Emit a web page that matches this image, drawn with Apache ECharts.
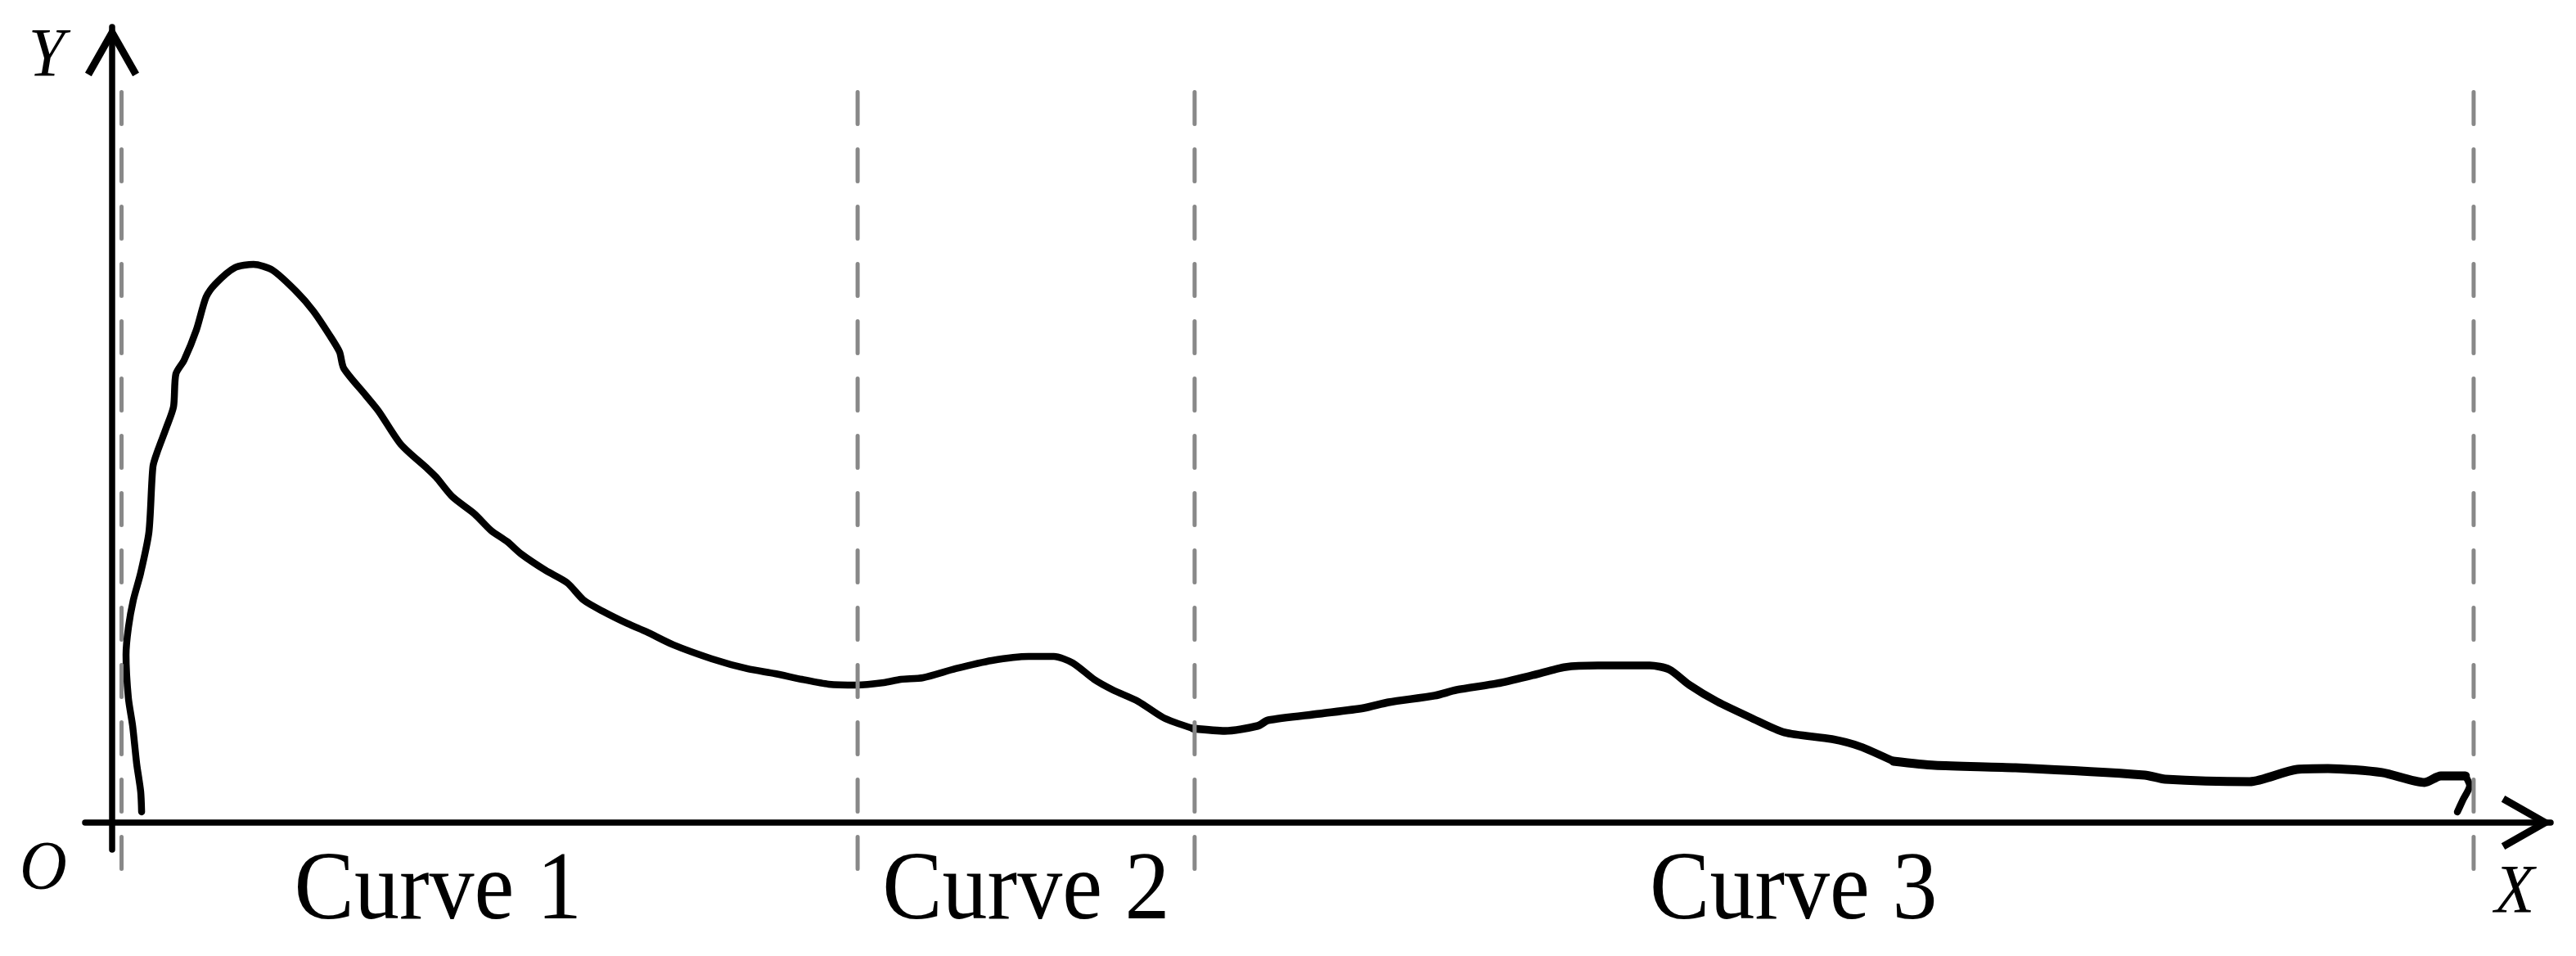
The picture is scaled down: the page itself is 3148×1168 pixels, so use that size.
<!DOCTYPE html>
<html>
<head>
<meta charset="utf-8">
<script src="https://cdn.jsdelivr.net/npm/echarts@6/dist/echarts.min.js"></script>
<style>
  html, body { margin: 0; padding: 0; background: #fff; }
  #chart { width: 3148px; height: 1168px; }
</style>
</head>
<body>
<div id="chart"></div>
<script>
// ---- Data ----
// Curve trace: x and y in chart units (x: 0 = Y axis, 100 = last boundary; y: 0 = X axis)
const curveX = [1.25, 1.21, 1.04, 0.87, 0.69, 0.59, 0.69, 0.90, 1.21, 1.56, 1.73, 1.94, 2.29, 2.60, 2.70, 3.05, 3.57, 3.98, 4.37, 5.20,
  5.99, 6.79, 7.83, 8.52, 9.22, 9.63, 9.81, 10.74, 11.30, 12.23, 13.37, 13.72, 14.41, 15.35, 16.04, 16.74, 17.33, 18.36, 19.27, 19.96,
  20.79, 21.83, 22.63, 23.77, 25.40, 26.89, 28.07, 29.21, 30.35, 31.53, 32.68, 33.40, 34.34, 35.72, 37.25, 38.81, 39.88, 40.68, 41.58, 42.38,
  43.45, 44.53, 45.77, 47.12, 48.51, 48.96, 51.14, 53.01, 54.05, 56.00, 56.93, 58.66, 60.15, 61.54, 62.92, 65.11, 65.94, 66.80, 67.95, 69.40,
  70.82, 72.83, 74.01, 75.43, 77.17, 80.60, 86.07, 86.94, 90.51, 92.52, 93.83, 96.12, 97.92, 98.61, 99.65, 99.83, 99.55, 99.31];
const curveY = [1.34, 3.91, 7.41, 12.14, 15.64, 21.09, 24.49, 27.98, 31.38, 36.52, 44.75, 46.81, 49.59, 52.26, 56.38, 58.13, 61.93, 66.05, 67.70, 69.75,
  70.16, 69.44, 66.67, 64.30, 61.21, 59.16, 57.10, 53.70, 51.65, 47.53, 44.44, 43.42, 40.95, 38.79, 36.73, 35.29, 33.74, 31.69, 30.14, 27.98,
  26.54, 25.00, 23.97, 22.33, 20.58, 19.34, 18.72, 18.00, 17.39, 17.28, 17.59, 18.00, 18.21, 19.34, 20.37, 20.88, 20.88, 20.06, 18.00, 16.67,
  15.23, 13.17, 11.83, 11.52, 12.14, 12.86, 13.68, 14.40, 15.12, 15.95, 16.67, 17.49, 18.52, 19.55, 19.75, 19.75, 19.24, 17.28, 15.23, 13.17,
  11.32, 10.49, 9.57, 7.72, 7.20, 6.89, 5.97, 5.45, 5.14, 6.69, 6.79, 6.28, 5.04, 5.86, 5.86, 4.63, 2.88, 1.34];
// Segment boundaries (dashed lines) in x units
const boundaries = [0.40, 31.57, 45.84, 100.0];
// Segment labels and their centre positions (x units)
const segmentLabels = ['Curve 1', 'Curve 2', 'Curve 3'];
const segmentLabelX = [13.8, 38.7, 71.2];
const axisNames = { x: 'X', y: 'Y', origin: 'O' };

// ---- Style: the hand-drawn stroke gets heavier towards the right ----
const strokePieces = [
  { from: 0, to: 62, width: 8.5 },
  { from: 62, to: 83, width: 9.5 },
  { from: 83, to: 94, width: 11 },
  { from: 94, to: 97, width: 8.5 }
];

// ---- Layout ----
const W = 3148, H = 1168;
const xMin = -1.143, xMax = 103.26, yMin = -3.4, yMax = 100;
const gridMain = { left: 104, right: 31, top: 33, bottom: 130 };
const gridDash = { left: 104, right: 31, top: 112.5, bottom: 106.5 };
const serif = '"Liberation Serif", "Times New Roman", serif';
const chevron = 'path://M33 0L66 58L58.2 62.5L33 18L7.8 62.5L0 58Z';

const chart = echarts.init(document.getElementById('chart'), null, { renderer: 'canvas', width: W, height: H });

const curveData = curveX.map((x, i) => [x, curveY[i]]);

const curveSeries = strokePieces.map(p => ({
  type: 'line',
  xAxisIndex: 0, yAxisIndex: 0,
  data: curveData.slice(p.from, p.to + 1),
  showSymbol: false,
  symbol: 'none',
  smooth: 0.25,
  silent: true,
  z: 3,
  lineStyle: { color: '#000', width: p.width, cap: 'round', join: 'round' }
}));

const dashSeries = boundaries.map(b => ({
  type: 'line',
  xAxisIndex: 1,
  yAxisIndex: 1,
  data: [[b, 1], [b, 0]],
  showSymbol: false,
  symbol: 'none',
  silent: true,
  z: 5,
  lineStyle: { color: '#888888', width: 5, type: [39, 31], cap: 'round' }
}));

const xToPx = x => gridMain.left + (x - xMin) / (xMax - xMin) * (W - gridMain.left - gridMain.right);

const labelGraphics = segmentLabels.map((t, i) => ({
  type: 'text',
  x: xToPx(segmentLabelX[i]),
  y: 1091,
  scaleY: 1.07,
  style: {
    text: t, fill: '#000',
    font: 'normal 110px ' + serif,
    textAlign: 'center', textVerticalAlign: 'middle',
    align: 'center', verticalAlign: 'middle'
  }
}));

function italicText(t, x, y) {
  return {
    type: 'text', x: x, y: y, scaleY: 1.07,
    style: {
      text: t, fill: '#000',
      font: 'italic 80px ' + serif,
      textAlign: 'center', textVerticalAlign: 'middle',
      align: 'center', verticalAlign: 'middle'
    }
  };
}

const axisLineStyle = { color: '#000', width: 7.5 };

const option = {
  animation: false,
  backgroundColor: '#ffffff',
  grid: [
    Object.assign({ containLabel: false }, gridMain),
    Object.assign({ containLabel: false }, gridDash)
  ],
  xAxis: [
    {
      type: 'value', gridIndex: 0, min: xMin, max: xMax,
      axisLine: { show: true, onZero: true, lineStyle: axisLineStyle,
        symbol: ['none', chevron], symbolSize: [66, 62.5], symbolOffset: [0, -29] },
      axisTick: { show: false }, axisLabel: { show: false }, splitLine: { show: false }
    },
    {
      type: 'value', gridIndex: 1, min: xMin, max: xMax, show: false,
      axisLine: { show: false }, axisTick: { show: false }, axisLabel: { show: false }, splitLine: { show: false }
    }
  ],
  yAxis: [
    {
      type: 'value', gridIndex: 0, min: yMin, max: yMax,
      axisLine: { show: true, onZero: true, lineStyle: axisLineStyle,
        symbol: ['none', chevron], symbolSize: [66, 62.5], symbolOffset: [0, -29] },
      axisTick: { show: false }, axisLabel: { show: false }, splitLine: { show: false }
    },
    {
      type: 'value', gridIndex: 1, min: 0, max: 1, show: false,
      axisLine: { show: false }, axisTick: { show: false }, axisLabel: { show: false }, splitLine: { show: false }
    }
  ],
  series: curveSeries.concat(dashSeries),
  graphic: [
    italicText(axisNames.y, 57, 70),
    italicText(axisNames.origin, 53, 1063),
    italicText(axisNames.x, 3073, 1092)
  ].concat(labelGraphics)
};

chart.setOption(option);
</script>
</body>
</html>
